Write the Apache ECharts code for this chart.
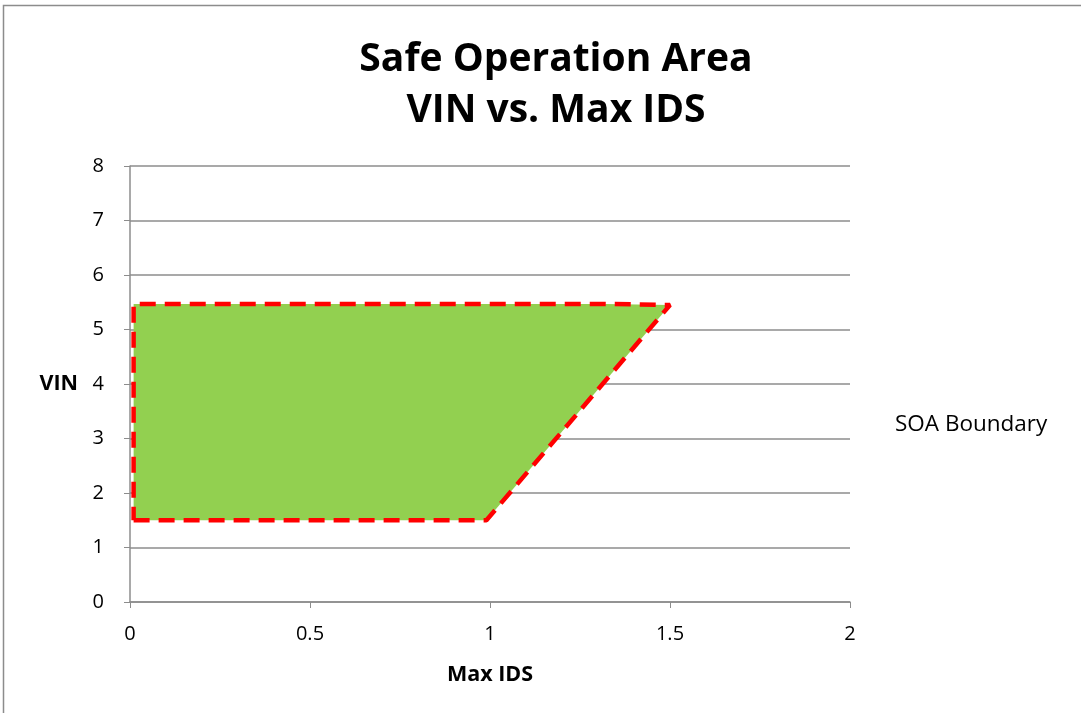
<!DOCTYPE html>
<html><head><meta charset="utf-8">
<script src="https://cdn.jsdelivr.net/npm/echarts@6/dist/echarts.min.js"></script>
<style>html,body{margin:0;padding:0;background:#fff}#c{width:1081px;height:713px}</style>
</head><body><div id="c"></div>
<script>
const seriesName = 'SOA Boundary';
const maxIds = [0.01, 0.99, 1.5, 1.32, 0.01, 0.01];
const vin = [1.5, 1.5, 5.45, 5.47, 5.47, 1.5];
const xTicks = [0, 0.5, 1, 1.5, 2];
const yTicks = [0, 1, 2, 3, 4, 5, 6, 7, 8];

const pts = maxIds.map((x, i) => [x, vin[i]]);
const chart = echarts.init(document.getElementById('c'));
const font = '"Open Sans", Lato, sans-serif';
chart.setOption({
  animation: false,
  textStyle: { fontFamily: font },
  title: {
    text: 'Safe Operation Area\nVIN vs. Max IDS',
    left: 551, textAlign: 'center', top: 29,
    textStyle: { fontFamily: font, fontSize: 39, fontWeight: 'bold', color: '#000', lineHeight: 51 }
  },
  graphic: [{
    type: 'rect', shape: { x: 3.5, y: 5.5, width: 1200, height: 800 },
    style: { fill: 'none', stroke: '#8c8c8c', lineWidth: 1.5 }, silent: true
  }],
  legend: {
    left: 890, top: 408, itemWidth: 0, itemHeight: 0, icon: 'none',
    textStyle: { fontFamily: font, fontSize: 22.5, color: '#000', padding: [0,0,0,-5] },
    data: [seriesName]
  },
  grid: { left: 130, right: 231, top: 166, bottom: 111 },
  xAxis: {
    type: 'value', min: 0, max: 2, interval: 0.5,
    name: 'Max IDS', nameLocation: 'middle', nameGap: 62,
    nameTextStyle: { fontFamily: font, fontSize: 21.5, fontWeight: 'bold', color: '#000' },
    axisLine: { lineStyle: { color: '#8c8c8c', width: 1.5 } },
    axisTick: { show: true, length: 6, lineStyle: { color: '#8c8c8c' } },
    axisLabel: { fontSize: 20, color: '#000', margin: 22, formatter: v => xTicks.includes(v) ? String(v) : '' },
    splitLine: { show: false }
  },
  yAxis: {
    type: 'value', min: 0, max: 8, interval: 1,
    name: 'VIN', nameLocation: 'middle', nameGap: 52, nameRotate: 0,
    nameTextStyle: { fontFamily: font, fontSize: 21.5, fontWeight: 'bold', color: '#000' },
    axisLine: { show: true, lineStyle: { color: '#8c8c8c', width: 1.5 } },
    axisTick: { show: true, length: 6, lineStyle: { color: '#8c8c8c' } },
    axisLabel: { fontSize: 20, color: '#000', margin: 26, formatter: v => yTicks.includes(v) ? String(v) : '' },
    splitLine: { lineStyle: { color: '#8c8c8c', width: 1.5 } }
  },
  series: [
    {
      type: 'custom', name: 'fill', silent: true,
      data: [0],
      renderItem: (params, api) => ({
        type: 'polygon',
        shape: { points: pts.map(p => api.coord(p)) },
        style: { fill: '#92d050', stroke: 'none' }
      }),
      z: 2
    },
    {
      type: 'line', name: seriesName, data: pts, symbol: 'none',
      lineStyle: { color: '#ff0000', width: 4.5, type: [16, 9] },
      z: 3
    }
  ]
});
</script></body></html>
